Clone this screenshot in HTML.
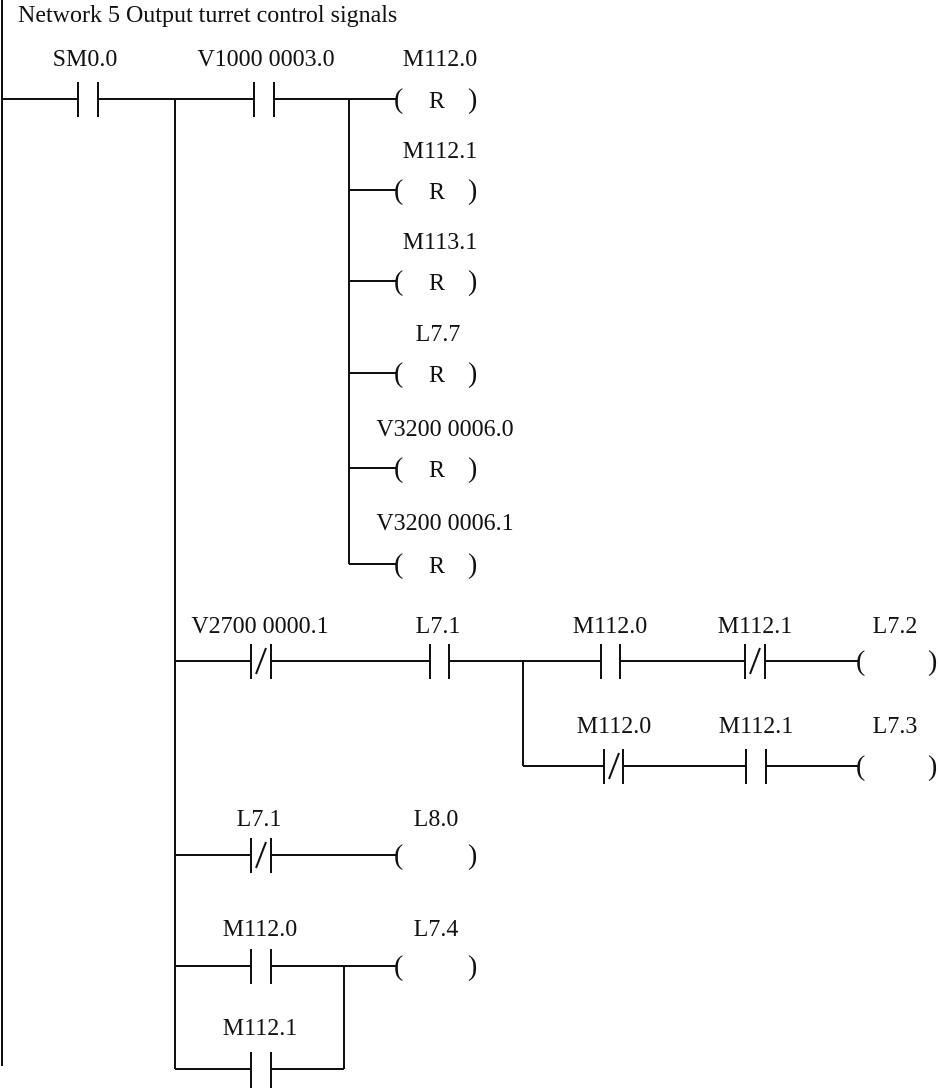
<!DOCTYPE html>
<html><head><meta charset="utf-8"><style>
html,body{margin:0;padding:0;background:#fff;}
svg{display:block;}
text{font-family:"Liberation Serif",serif;font-size:24px;fill:#111;}
.p{font-size:28px;}
</style></head><body>
<svg width="938" height="1088" viewBox="0 0 938 1088" xmlns="http://www.w3.org/2000/svg">
<g stroke="#111" stroke-width="2" fill="none">
<!-- left rail -->
<line x1="2" y1="0" x2="2" y2="1066"/>
<!-- main rung -->
<line x1="2" y1="99" x2="78" y2="99"/>
<line x1="78" y1="82" x2="78" y2="117"/><line x1="98" y1="82" x2="98" y2="117"/>
<line x1="98" y1="99" x2="254" y2="99"/>
<line x1="254" y1="82" x2="254" y2="117"/><line x1="274" y1="82" x2="274" y2="117"/>
<line x1="274" y1="99" x2="396" y2="99"/>
<!-- branch verticals -->
<line x1="175" y1="99" x2="175" y2="1069"/>
<line x1="349" y1="99" x2="349" y2="564"/>
<line x1="349" y1="190" x2="396" y2="190"/>
<line x1="349" y1="281" x2="396" y2="281"/>
<line x1="349" y1="373" x2="396" y2="373"/>
<line x1="349" y1="468" x2="396" y2="468"/>
<line x1="349" y1="564" x2="396" y2="564"/>
<!-- rung 2 -->
<line x1="175" y1="661" x2="251" y2="661"/>
<line x1="251" y1="644" x2="251" y2="679"/><line x1="271" y1="644" x2="271" y2="679"/><line x1="256" y1="674" x2="266" y2="648"/>
<line x1="271" y1="661" x2="430" y2="661"/>
<line x1="430" y1="644" x2="430" y2="679"/><line x1="449" y1="644" x2="449" y2="679"/>
<line x1="449" y1="661" x2="601" y2="661"/>
<line x1="523" y1="661" x2="523" y2="766"/>
<line x1="601" y1="644" x2="601" y2="679"/><line x1="620" y1="644" x2="620" y2="679"/>
<line x1="620" y1="661" x2="745" y2="661"/>
<line x1="745" y1="644" x2="745" y2="679"/><line x1="765" y1="644" x2="765" y2="679"/><line x1="750" y1="674" x2="760" y2="648"/>
<line x1="765" y1="661" x2="858" y2="661"/>
<line x1="523" y1="766" x2="604" y2="766"/>
<line x1="604" y1="749" x2="604" y2="784"/><line x1="623" y1="749" x2="623" y2="784"/><line x1="609" y1="779" x2="619" y2="753"/>
<line x1="623" y1="766" x2="746" y2="766"/>
<line x1="746" y1="749" x2="746" y2="784"/><line x1="766" y1="749" x2="766" y2="784"/>
<line x1="766" y1="766" x2="858" y2="766"/>
<!-- rung L8.0 -->
<line x1="175" y1="855" x2="251" y2="855"/>
<line x1="251" y1="838" x2="251" y2="873"/><line x1="271" y1="838" x2="271" y2="873"/><line x1="256" y1="868" x2="266" y2="842"/>
<line x1="271" y1="855" x2="396" y2="855"/>
<!-- rung L7.4 -->
<line x1="175" y1="966" x2="251" y2="966"/>
<line x1="251" y1="949" x2="251" y2="984"/><line x1="271" y1="949" x2="271" y2="984"/>
<line x1="271" y1="966" x2="396" y2="966"/>
<line x1="344" y1="966" x2="344" y2="1069"/>
<line x1="175" y1="1069" x2="251" y2="1069"/>
<line x1="251" y1="1052" x2="251" y2="1088"/><line x1="271" y1="1052" x2="271" y2="1088"/>
<line x1="271" y1="1069" x2="344" y2="1069"/>
</g>
<text x="18" y="22">Network 5  Output turret control signals</text>
<text x="85" y="66" text-anchor="middle">SM0.0</text>
<text x="266" y="66" text-anchor="middle">V1000 0003.0</text>
<text x="440" y="66" text-anchor="middle">M112.0</text>
<text x="440" y="158" text-anchor="middle">M112.1</text>
<text x="440" y="249" text-anchor="middle">M113.1</text>
<text x="438" y="341" text-anchor="middle">L7.7</text>
<text x="445" y="436" text-anchor="middle">V3200 0006.0</text>
<text x="445" y="530" text-anchor="middle">V3200 0006.1</text>
<g>
<text class="p" x="394" y="108">(</text><text x="429" y="108">R</text><text class="p" x="468" y="108">)</text>
<text class="p" x="394" y="199">(</text><text x="429" y="199">R</text><text class="p" x="468" y="199">)</text>
<text class="p" x="394" y="290">(</text><text x="429" y="290">R</text><text class="p" x="468" y="290">)</text>
<text class="p" x="394" y="382">(</text><text x="429" y="382">R</text><text class="p" x="468" y="382">)</text>
<text class="p" x="394" y="477">(</text><text x="429" y="477">R</text><text class="p" x="468" y="477">)</text>
<text class="p" x="394" y="573">(</text><text x="429" y="573">R</text><text class="p" x="468" y="573">)</text>
<text class="p" x="856" y="670">(</text><text class="p" x="928" y="670">)</text>
<text class="p" x="856" y="775">(</text><text class="p" x="928" y="775">)</text>
<text class="p" x="394" y="864">(</text><text class="p" x="468" y="864">)</text>
<text class="p" x="394" y="975">(</text><text class="p" x="468" y="975">)</text>
</g>
<text x="260" y="633" text-anchor="middle">V2700 0000.1</text>
<text x="438" y="633" text-anchor="middle">L7.1</text>
<text x="610" y="633" text-anchor="middle">M112.0</text>
<text x="755" y="633" text-anchor="middle">M112.1</text>
<text x="895" y="633" text-anchor="middle">L7.2</text>
<text x="614" y="733" text-anchor="middle">M112.0</text>
<text x="756" y="733" text-anchor="middle">M112.1</text>
<text x="895" y="733" text-anchor="middle">L7.3</text>
<text x="259" y="826" text-anchor="middle">L7.1</text>
<text x="436" y="826" text-anchor="middle">L8.0</text>
<text x="260" y="936" text-anchor="middle">M112.0</text>
<text x="436" y="936" text-anchor="middle">L7.4</text>
<text x="260" y="1035" text-anchor="middle">M112.1</text>
</svg>
</body></html>
